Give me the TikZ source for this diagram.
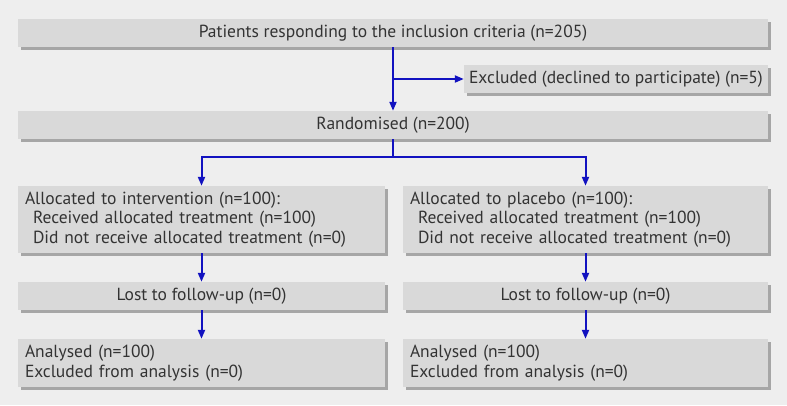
\documentclass[tikz,border=0pt]{standalone}
\usepackage{fontspec}
\setmainfont{PT Sans}
\usetikzlibrary{shadows,arrows.meta}
\definecolor{bgc}{HTML}{EEEEEE}
\definecolor{boxc}{HTML}{D9D9D9}
\definecolor{shc}{HTML}{A6A6A6}
\definecolor{txc}{HTML}{333333}
\definecolor{arc}{HTML}{1212C0}
\begin{document}
\begin{tikzpicture}[x=1pt,y=-1pt,
  box/.style={fill=boxc, draw=none, inner sep=0pt, text=txc,
    font=\fontsize{17.5}{19.5}\selectfont,
    drop shadow={shadow xshift=3pt,shadow yshift=-3pt,fill=shc,opacity=1}},
  arr/.style={draw=arc, line width=2pt, -{Triangle[length=9pt,width=7pt]}}]
\fill[bgc] (0,0) rectangle (787,405);
\node[box, minimum width=750pt, minimum height=28pt] (top) at (393,33) {Patients responding to the inclusion criteria (n=205)};
\node[box, minimum width=304pt, minimum height=28pt] (excl) at (616,79) {Excluded (declined to participate) (n=5)};
\node[box, minimum width=750pt, minimum height=28pt] (rand) at (393,125) {Randomised (n=200)};
\node[box, minimum width=367pt, minimum height=67pt, align=left, text width=353pt] (allocL) at (201.5,219.5) {Allocated to intervention (n=100):\\\hspace*{8pt}Received allocated treatment (n=100)\\\hspace*{8pt}Did not receive allocated treatment (n=0)};
\node[box, minimum width=365pt, minimum height=67pt, align=left, text width=351pt] (allocR) at (585.5,219.5) {Allocated to placebo (n=100):\\\hspace*{8pt}Received allocated treatment (n=100)\\\hspace*{8pt}Did not receive allocated treatment (n=0)};
\node[box, minimum width=367pt, minimum height=28pt] (lostL) at (201.5,296) {Lost to follow-up (n=0)};
\node[box, minimum width=365pt, minimum height=28pt] (lostR) at (585.5,296) {Lost to follow-up (n=0)};
\node[box, minimum width=367pt, minimum height=48pt, align=left, text width=353pt] (anaL) at (201.5,363) {Analysed (n=100)\\Excluded from analysis (n=0)};
\node[box, minimum width=365pt, minimum height=48pt, align=left, text width=351pt] (anaR) at (585.5,363) {Analysed (n=100)\\Excluded from analysis (n=0)};
\coordinate (b1) at (393,79);
\coordinate (b2) at (393,157);
\draw[arr] (top.south) -- (rand.north);
\draw[arr] (b1) -- (excl.west);
\draw[draw=arc, line width=2pt] (rand.south) -- (b2);
\draw[arr] (b2) -| (allocL.north);
\draw[arr] (b2) -| (allocR.north);
\draw[arr] (allocL.south) -- (lostL.north);
\draw[arr] (allocR.south) -- (lostR.north);
\draw[arr] (lostL.south) -- (anaL.north);
\draw[arr] (lostR.south) -- (anaR.north);
\end{tikzpicture}
\end{document}
